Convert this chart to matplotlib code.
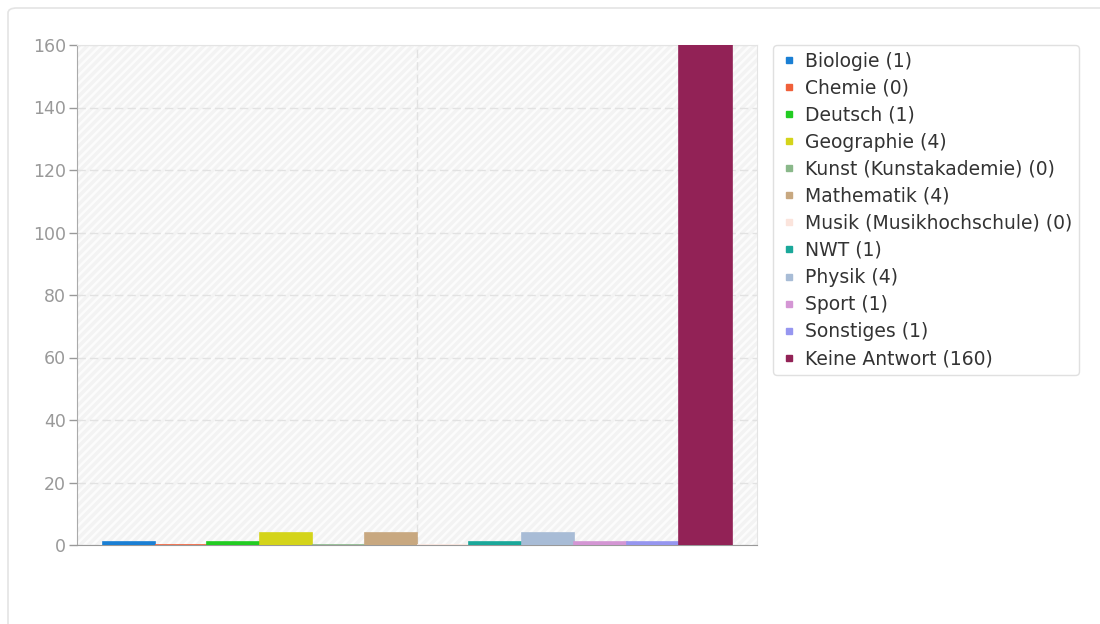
import matplotlib.pyplot as plt
from matplotlib.patches import FancyBboxPatch, Rectangle
from matplotlib.lines import Line2D

subjects = [
    "Biologie", "Chemie", "Deutsch", "Geographie", "Kunst (Kunstakademie)",
    "Mathematik", "Musik (Musikhochschule)", "NWT", "Physik", "Sport",
    "Sonstiges", "Keine Antwort",
]
counts = [1, 0, 1, 4, 0, 4, 0, 1, 4, 1, 1, 160]
colors = [
    "#1a7fd4", "#f0603a", "#22cc22", "#d4d41a", "#8ab88a", "#c8a880",
    "#fbe4dc", "#1aa89a", "#a8bcd6", "#d496d4", "#9696f0", "#922256",
]
y_ticks = [0, 20, 40, 60, 80, 100, 120, 140, 160]

plt.rcParams["hatch.linewidth"] = 2.5

W, H = 1100, 624
fig = plt.figure(figsize=(W / 100, H / 100), dpi=100)

# card frame (outline only)
card = FancyBboxPatch((8 / W, -20 / H), 1.2, (H + 12) / H,
                      boxstyle="round,pad=0,rounding_size=0.008",
                      transform=fig.transFigure, facecolor="none",
                      edgecolor="#e4e4e4", linewidth=1.2, zorder=-1)
fig.patches.append(card)

ax = fig.add_axes([77 / W, 1 - 545 / H, 680 / W, 500 / H])
ax.set_facecolor("none")

bg = Rectangle((0, 0), 1, 1, transform=ax.transAxes, facecolor="#fcfcfc",
               edgecolor="#f3f3f3", hatch="////", linewidth=0, zorder=0)
ax.add_patch(bg)

n = len(counts)
group = 629 / 680
bw = group / n
for i, (c, col) in enumerate(zip(counts, colors)):
    x = -group / 2 + bw * (i + 0.5)
    ax.bar(x, c, width=bw, color=col, edgecolor=col, linewidth=1.2, zorder=3)

ax.set_xlim(-0.5, 0.5)
ax.set_ylim(0, 160)
ax.set_yticks(y_ticks)
ax.set_xticks([0])
ax.set_xticklabels([])
ax.tick_params(axis="x", length=0)
ax.tick_params(axis="y", length=6, width=1, color="#999999",
               labelcolor="#999999", labelsize=12.5, pad=2)
ax.grid(True, color="#e2e2e2", linestyle=(0, (6, 3)), linewidth=1, zorder=1)
ax.set_axisbelow(True)

for side in ["top", "right"]:
    ax.spines[side].set_color("#e4e4e4")
ax.spines["left"].set_color("#aaaaaa")
ax.spines["bottom"].set_color("#999999")

handles = [Line2D([], [], marker="s", linestyle="none", markersize=5,
                  markerfacecolor=col, markeredgecolor=col) for col in colors]
labels = [f"{s} ({c})" for s, c in zip(subjects, counts)]
leg = fig.legend(handles, labels, loc="upper left",
                 bbox_to_anchor=(773 / W, 1 - 45 / H), borderaxespad=0,
                 fontsize=13.5, labelspacing=0.43, handlelength=1.0,
                 handletextpad=0.35, borderpad=0.35, frameon=True,
                 fancybox=True, shadow=False, labelcolor="#333333")
frame = leg.get_frame()
frame.set_edgecolor("#e0e0e0")
frame.set_facecolor("white")
frame.set_alpha(1)
frame.set_linewidth(1)

fig.savefig("out.png", dpi=100)
